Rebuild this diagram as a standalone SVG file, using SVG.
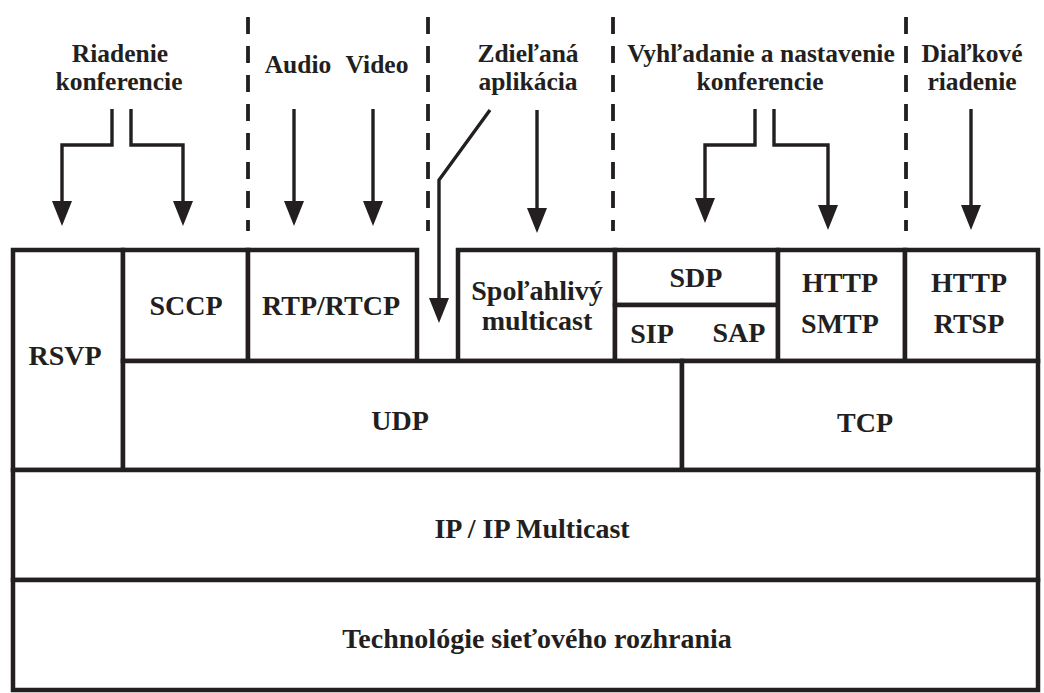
<svg xmlns="http://www.w3.org/2000/svg" width="1044" height="693" viewBox="0 0 1044 693">
<style>
  .box { fill: #ffffff; stroke: #231f20; stroke-width: 4.5; }
  .lbl { font-family: "Liberation Serif", "Times New Roman", serif; font-weight: bold; font-size: 28px; fill: #231f20; text-anchor: middle; }
  .hdr { font-family: "Liberation Serif", "Times New Roman", serif; font-weight: bold; font-size: 25.5px; fill: #231f20; text-anchor: middle; }
  .arr { fill: none; stroke: #231f20; stroke-width: 3.4; marker-end: url(#ah); }
  .dash { fill: none; stroke: #231f20; stroke-width: 3.8; stroke-dasharray: 17 12; }
</style>
<defs>
  <marker id="ah" markerUnits="userSpaceOnUse" markerWidth="26" markerHeight="22" refX="15" refY="11" orient="auto" viewBox="0 0 26 22">
    <path d="M0,1 L25,11 L0,21 Z" fill="#231f20"/>
  </marker>
</defs>
<rect width="1044" height="693" fill="#ffffff"/>

<g id="dividers">
  <line class="dash" x1="248" y1="17" x2="248" y2="231"/>
  <line class="dash" x1="428" y1="17" x2="428" y2="231"/>
  <line class="dash" x1="613" y1="17" x2="613" y2="231"/>
  <line class="dash" x1="906" y1="17" x2="906" y2="231"/>
</g>

<g id="headers">
  <g id="h-riadenie">
    <text class="hdr" x="120" y="62">Riadenie</text>
    <text class="hdr" x="119" y="90">konferencie</text>
  </g>
  <g id="h-audio"><text class="hdr" x="298" y="73">Audio</text></g>
  <g id="h-video"><text class="hdr" x="377" y="73">Video</text></g>
  <g id="h-zdielana">
    <text class="hdr" x="528" y="62">Zdieľaná</text>
    <text class="hdr" x="528" y="90">aplikácia</text>
  </g>
  <g id="h-vyhladanie">
    <text class="hdr" x="761" y="62">Vyhľadanie a nastavenie</text>
    <text class="hdr" x="760" y="90">konferencie</text>
  </g>
  <g id="h-dialkove">
    <text class="hdr" x="972" y="62">Diaľkové</text>
    <text class="hdr" x="972" y="90">riadenie</text>
  </g>
</g>

<g id="connectors">
  <path class="arr" d="M112,109 V145 H62 V216"/>
  <path class="arr" d="M131,109 V145 H183 V216"/>
  <path class="arr" d="M294,109 V216"/>
  <path class="arr" d="M373,109 V216"/>
  <path class="arr" d="M537,110 V223"/>
  <path class="arr" d="M490,110 L439,180 V313"/>
  <path class="arr" d="M755,109 V145 H705 V213"/>
  <path class="arr" d="M774,109 V145 H828 V220"/>
  <path class="arr" d="M971,109 V220"/>
</g>

<g id="rsvp"><rect class="box" x="13" y="250" width="110" height="220"/><text class="lbl" x="65" y="365">RSVP</text></g>
<g id="sccp"><rect class="box" x="123" y="250" width="125" height="111"/><text class="lbl" x="186" y="315">SCCP</text></g>
<g id="rtp"><rect class="box" x="248" y="250" width="169" height="111"/><text class="lbl" x="331" y="315">RTP/RTCP</text></g>
<g id="multicast"><rect class="box" x="458" y="250" width="157" height="111"/><text class="lbl" x="537" y="300">Spoľahlivý</text><text class="lbl" x="537" y="330">multicast</text></g>
<g id="sdp"><rect class="box" x="615" y="250" width="163" height="55"/><text class="lbl" x="696" y="287">SDP</text></g>
<g id="sipsap"><rect class="box" x="615" y="305" width="163" height="56"/><text class="lbl" x="652" y="343">SIP</text><text class="lbl" x="739" y="342">SAP</text></g>
<g id="http-smtp"><rect class="box" x="778" y="250" width="127" height="111"/><text class="lbl" x="840" y="292">HTTP</text><text class="lbl" x="840" y="333">SMTP</text></g>
<g id="http-rtsp"><rect class="box" x="905" y="250" width="133" height="111"/><text class="lbl" x="969" y="292">HTTP</text><text class="lbl" x="969" y="333">RTSP</text></g>
<g id="udp"><rect class="box" x="123" y="361" width="559" height="109"/><text class="lbl" x="400" y="430">UDP</text></g>
<g id="tcp"><rect class="box" x="682" y="361" width="356" height="109"/><text class="lbl" x="865" y="432">TCP</text></g>
<g id="ip"><rect class="box" x="13" y="470" width="1025" height="110"/><text class="lbl" x="532" y="538">IP / IP Multicast</text></g>
<g id="tech"><rect class="box" x="13" y="580" width="1025" height="110"/><text class="lbl" x="537" y="648">Technológie sieťového rozhrania</text></g>
</svg>
